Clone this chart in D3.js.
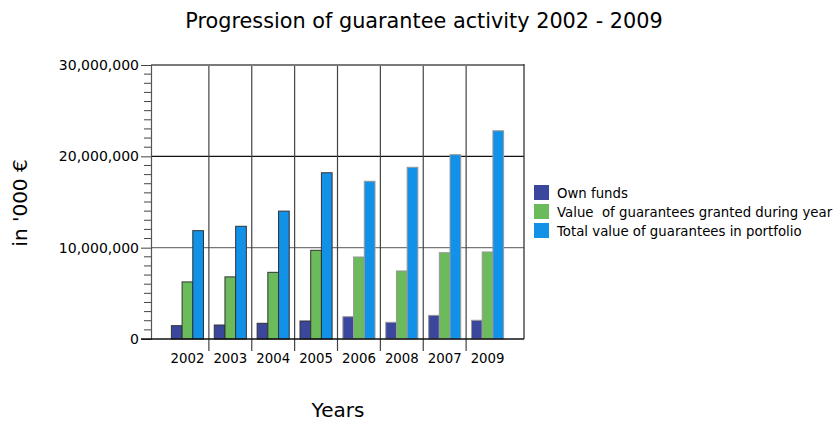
<!DOCTYPE html>
<html><head><meta charset="utf-8">
<script src="https://cdn.jsdelivr.net/npm/d3@7/dist/d3.min.js"></script>
<style>body{margin:0;background:#fff;}svg{display:block;font-family:"DejaVu Sans",Verdana,sans-serif;}</style>
</head><body><svg id="c" width="834" height="421"></svg>
<script>
const years = ["2002","2003","2004","2005","2006","2008","2007","2009"];
const seriesNames = ["Own funds","Value  of guarantees granted during year","Total value of guarantees in portfolio"];
const ownFunds = [1460000,1530000,1720000,1970000,2440000,1830000,2590000,2050000];
const granted = [6250000,6800000,7300000,9710000,8980000,7450000,9450000,9530000];
const portfolio = [11860000,12340000,14000000,18200000,17270000,18800000,20180000,22800000];
const yTicks = [0,10000000,20000000,30000000];
const colors = ["#3b479d","#6bba5b","#1192e8"];

const svg = d3.select("#c");
const L=151, R=524, T=65, B=339;
const x = d3.scaleBand().domain(years).range([L+15, R-15]).paddingInner(0).paddingOuter(0);
const y = d3.scaleLinear().domain([0,30000000]).range([B,T]);
const series=[ownFunds,granted,portfolio];
const barW = 10.7;

svg.append("g").selectAll("line").data([10000000,20000000]).join("line")
  .attr("x1",L).attr("x2",R).attr("y1",d=>y(d)).attr("y2",d=>y(d))
  .attr("stroke",(d,i)=>i==0?"#777":"#111").attr("stroke-width",1.2);
svg.append("g").selectAll("line").data(years.slice(1)).join("line")
  .attr("x1",d=>x(d)).attr("x2",d=>x(d)).attr("y1",T).attr("y2",B+12)
  .attr("stroke","#444").attr("stroke-width",1.2);
svg.append("line").attr("x1",L).attr("x2",R).attr("y1",T).attr("y2",T).attr("stroke","#7a7a7a").attr("stroke-width",2);
svg.append("line").attr("x1",R).attr("x2",R).attr("y1",T-1).attr("y2",B).attr("stroke","#333").attr("stroke-width",1.3);

years.forEach((yr,i)=>{
  const cx = x(yr)+x.bandwidth()/2;
  series.forEach((s,j)=>{
    svg.append("rect")
      .attr("x",cx-1.5*barW+j*barW).attr("width",barW)
      .attr("y",y(s[i])).attr("height",B-y(s[i]))
      .attr("fill",colors[j])
      .attr("stroke",i<4?"#333":"#999").attr("stroke-width",1);
  });
});

const yAxis = d3.axisLeft(y).tickValues(yTicks).tickSize(10).tickPadding(2)
  .tickFormat(d3.format(","));
const ga = svg.append("g").attr("transform",`translate(${L},0)`).call(yAxis);
ga.attr("font-size",null).attr("font-family",null);
ga.select(".domain").attr("stroke","#555").attr("stroke-width",1.2);
ga.selectAll(".tick line").attr("stroke","#444");
ga.selectAll("text").style("font-size","14px").attr("fill","#000");
const minor = d3.range(0,30000001,1000000).filter(v=>v%10000000!==0);
svg.append("g").selectAll("line").data(minor).join("line")
  .attr("x1",L-7).attr("x2",L).attr("y1",d=>y(d)).attr("y2",d=>y(d))
  .attr("stroke","#444").attr("stroke-width",1);

svg.append("line").attr("x1",L-10).attr("x2",R).attr("y1",B).attr("y2",B).attr("stroke","#111").attr("stroke-width",1.3);
svg.append("g").selectAll("text").data(years).join("text")
  .attr("x",d=>x(d)+x.bandwidth()/2).attr("y",B+24)
  .attr("text-anchor","middle").style("font-size","13.3px").text(d=>d);

svg.append("text").attr("x",424).attr("y",28).attr("text-anchor","middle").style("font-size","20.8px")
  .text("Progression of guarantee activity 2002 - 2009");
svg.append("text").attr("transform","translate(27,203) rotate(-90)").attr("text-anchor","middle").style("font-size","20px").text("in '000 €");
svg.append("text").attr("x",338).attr("y",417).attr("text-anchor","middle").style("font-size","20px").text("Years");

const lg = svg.append("g").attr("transform","translate(534,185)");
seriesNames.forEach((n,i)=>{
  lg.append("rect").attr("x",0).attr("y",i*19).attr("width",15).attr("height",15).attr("fill",colors[i]);
  lg.append("text").attr("x",23).attr("y",i*19+12.5).style("font-size","13.3px").style("white-space","pre").text(n);
});
</script></body></html>
